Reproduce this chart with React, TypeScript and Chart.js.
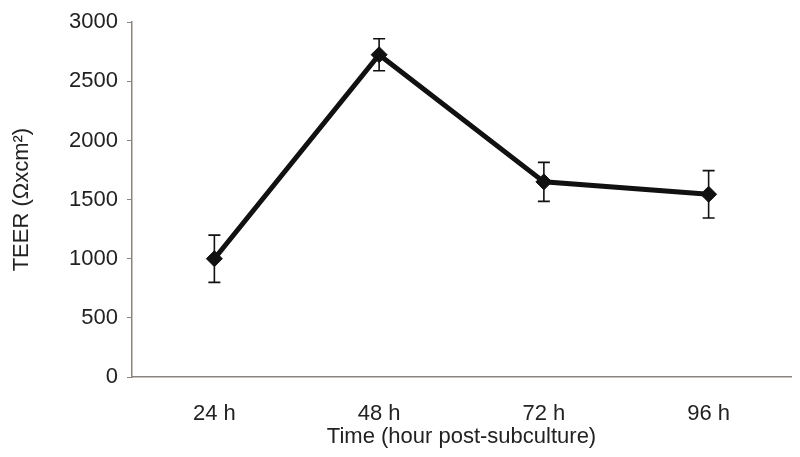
import React, { useEffect, useRef } from "react";
import { Chart, registerables } from "chart.js";

Chart.register(...registerables);

const categories = ["24 h", "48 h", "72 h", "96 h"];
const teerMeans = [1000, 2725, 1650, 1545];
const teerErrors = [200, 135, 165, 200];
const yTicks = [0, 500, 1000, 1500, 2000, 2500, 3000];

const FONT = "'Liberation Sans', Arial, sans-serif";
const TEXT = "#222222";
const AXIS = "#8a8580";

const errorBarPlugin = {
  id: "errorBars",
  beforeDatasetsDraw(chart: any) {
    const ctx = chart.ctx;
    const xs = chart.scales.x;
    const ys = chart.scales.y;
    ctx.save();
    ctx.strokeStyle = "#111111";
    ctx.lineWidth = 1.6;
    teerMeans.forEach((m, i) => {
      const x = xs.getPixelForValue(i);
      const yTop = ys.getPixelForValue(m + teerErrors[i]);
      const yBot = ys.getPixelForValue(m - teerErrors[i]);
      const cap = 6;
      ctx.beginPath();
      ctx.moveTo(x, yTop);
      ctx.lineTo(x, yBot);
      ctx.moveTo(x - cap, yTop);
      ctx.lineTo(x + cap, yTop);
      ctx.moveTo(x - cap, yBot);
      ctx.lineTo(x + cap, yBot);
      ctx.stroke();
    });
    ctx.restore();
  },
};

export default function App() {
  const ref = useRef<HTMLCanvasElement | null>(null);
  useEffect(() => {
    document.body.style.margin = "0";
    const chart = new Chart(ref.current as HTMLCanvasElement, {
      type: "line",
      data: {
        labels: categories,
        datasets: [
          {
            data: teerMeans,
            borderColor: "#111111",
            backgroundColor: "#111111",
            borderWidth: 5,
            pointStyle: "rectRot",
            pointRadius: 8,
            pointBackgroundColor: "#111111",
            pointBorderColor: "#111111",
            pointBorderWidth: 1,
            tension: 0,
          },
        ],
      },
      options: {
        animation: false,
        responsive: false,
        maintainAspectRatio: false,
        layout: { padding: { top: 20, right: 4, left: 0, bottom: 0 } },
        plugins: { legend: { display: false }, tooltip: { enabled: false } },
        scales: {
          x: {
            type: "category",
            offset: true,
            grid: { display: false, drawTicks: false },
            border: { display: true, color: AXIS, width: 1.5 },
            ticks: { color: TEXT, font: { family: FONT, size: 22 }, padding: 24 },
            title: {
              display: true,
              text: "Time (hour post-subculture)",
              color: TEXT,
              font: { family: FONT, size: 22 },
              padding: { top: 0, bottom: 7 },
            },
            afterFit(scale: any) {
              scale.height = 80;
            },
          },
          y: {
            min: 0,
            max: 3000,
            afterBuildTicks(scale: any) {
              scale.ticks = yTicks.map((v) => ({ value: v }));
            },
            grid: {
              drawOnChartArea: false,
              drawTicks: true,
              tickLength: 5,
              color: AXIS,
            },
            border: { display: true, color: AXIS, width: 1.5 },
            ticks: {
              color: TEXT,
              font: { family: FONT, size: 22 },
              padding: 9,
              callback: (v: any) => String(v),
            },
            title: {
              display: true,
              text: "TEER (Ωxcm²)",
              color: TEXT,
              font: { family: FONT, size: 22 },
              padding: { top: 9, bottom: 10 },
            },
            afterFit(scale: any) {
              scale.width = 132;
            },
          },
        },
      },
      plugins: [errorBarPlugin],
    });
    return () => chart.destroy();
  }, []);
  return (
    <div style={{ width: 800, height: 457 }}>
      <canvas ref={ref} width={800} height={457} style={{ display: "block" }} />
    </div>
  );
}
